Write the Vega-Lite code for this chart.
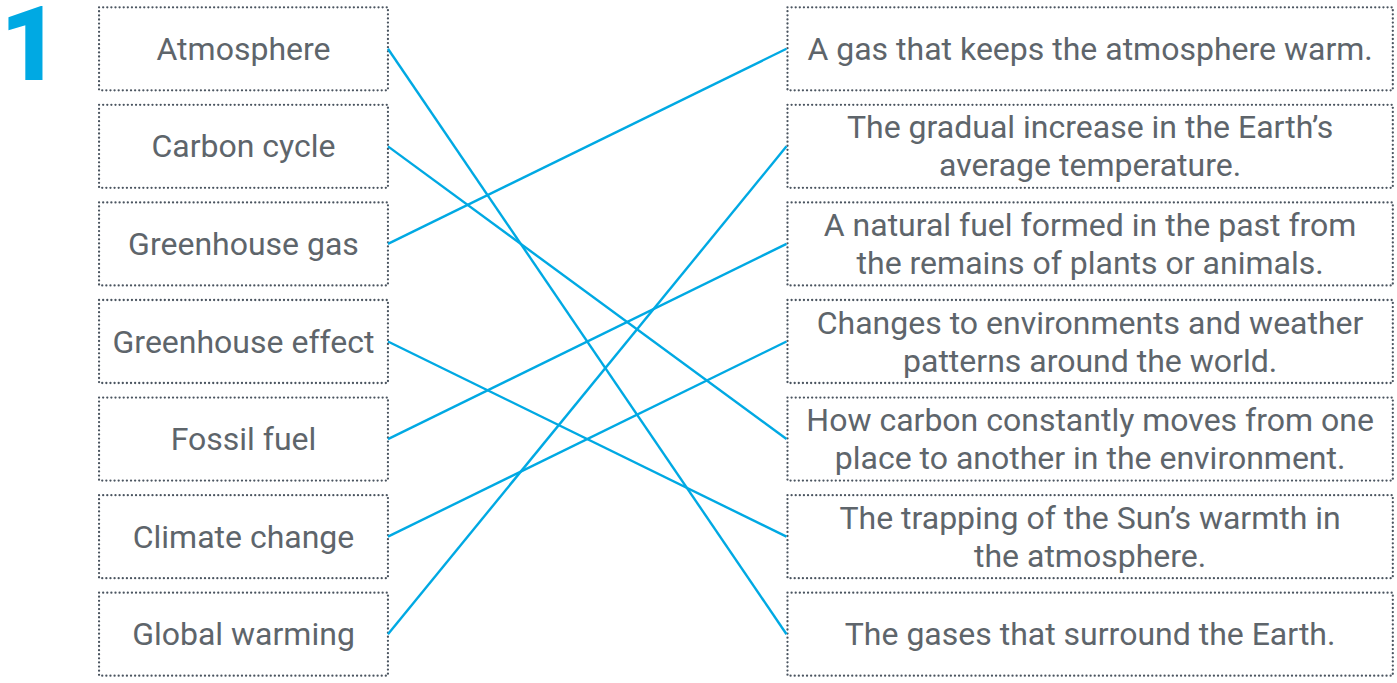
{
  "$schema": "https://vega.github.io/schema/vega-lite/v6.json",
  "width": 1397,
  "height": 683,
  "autosize": {"type": "none"},
  "padding": 0,
  "background": "white",
  "config": {"view": {"stroke": null}},
  "datasets": {
    "left": [
      {"row": 0, "label": "Atmosphere"},
      {"row": 1, "label": "Carbon cycle"},
      {"row": 2, "label": "Greenhouse gas"},
      {"row": 3, "label": "Greenhouse effect"},
      {"row": 4, "label": "Fossil fuel"},
      {"row": 5, "label": "Climate change"},
      {"row": 6, "label": "Global warming"}
    ],
    "right": [
      {"row": 0, "label": "A gas that keeps the atmosphere warm."},
      {"row": 1, "label": "The gradual increase in the Earth’s\naverage temperature."},
      {"row": 2, "label": "A natural fuel formed in the past from\nthe remains of plants or animals."},
      {"row": 3, "label": "Changes to environments and weather\npatterns around the world."},
      {"row": 4, "label": "How carbon constantly moves from one\nplace to another in the environment."},
      {"row": 5, "label": "The trapping of the Sun’s warmth in\nthe atmosphere."},
      {"row": 6, "label": "The gases that surround the Earth."}
    ],
    "links": [
      {"from": 0, "to": 6},
      {"from": 1, "to": 4},
      {"from": 2, "to": 0},
      {"from": 3, "to": 5},
      {"from": 4, "to": 2},
      {"from": 5, "to": 3},
      {"from": 6, "to": 1}
    ]
  },
  "layer": [
    {
      "data": {"name": "left"},
      "mark": {"type": "rect", "fill": "white", "stroke": "#4b5560", "strokeWidth": 2.3, "strokeDash": [0.01, 4.1], "strokeCap": "round", "yOffset": -41.5, "y2Offset": 41.5},
      "encoding": {
        "x": {"datum": 7.09, "type": "quantitative", "scale": {"domain": [0, 100]}, "axis": null},
        "x2": {"datum": 27.77},
        "y": {"field": "row", "type": "quantitative", "scale": {"domain": [-0.495, 6.474], "reverse": true}, "axis": null},
        "y2": {"field": "row"}
      }
    },
    {
      "data": {"name": "right"},
      "mark": {"type": "rect", "fill": "white", "stroke": "#4b5560", "strokeWidth": 2.3, "strokeDash": [0.01, 4.1], "strokeCap": "round", "yOffset": -41.5, "y2Offset": 41.5},
      "encoding": {
        "x": {"datum": 56.37, "type": "quantitative"},
        "x2": {"datum": 99.7},
        "y": {"field": "row", "type": "quantitative"},
        "y2": {"field": "row"}
      }
    },
    {
      "data": {"name": "links"},
      "mark": {"type": "rule", "color": "#00a9e3", "strokeWidth": 2.4},
      "encoding": {
        "x": {"datum": 27.77, "type": "quantitative"},
        "x2": {"datum": 56.3},
        "y": {"field": "from", "type": "quantitative"},
        "y2": {"field": "to"}
      }
    },
    {
      "data": {"name": "left"},
      "mark": {"type": "text", "font": "Roboto", "fontSize": 32, "color": "#5e656b", "align": "center", "baseline": "middle", "dy": 1},
      "encoding": {
        "x": {"datum": 17.43, "type": "quantitative"},
        "y": {"field": "row", "type": "quantitative"},
        "text": {"field": "label"}
      }
    },
    {
      "data": {"name": "right"},
      "transform": [{"filter": "datum.row == 0 || datum.row == 6"}],
      "mark": {"type": "text", "font": "Roboto", "fontSize": 32, "color": "#5e656b", "align": "center", "baseline": "middle", "dy": 1},
      "encoding": {
        "x": {"datum": 78.03, "type": "quantitative"},
        "y": {"field": "row", "type": "quantitative"},
        "text": {"field": "label"}
      }
    },
    {
      "data": {"name": "right"},
      "transform": [{"filter": "datum.row > 0 && datum.row < 6"}],
      "mark": {"type": "text", "font": "Roboto", "fontSize": 32, "color": "#5e656b", "align": "center", "baseline": "middle", "lineBreak": "\n", "lineHeight": 38, "dy": -18},
      "encoding": {
        "x": {"datum": 78.03, "type": "quantitative"},
        "y": {"field": "row", "type": "quantitative"},
        "text": {"field": "label"}
      }
    },
    {
      "data": {"values": [{"label": "1"}]},
      "mark": {"type": "text", "font": "Roboto", "fontSize": 104, "fontWeight": 900, "color": "#00a9e3", "align": "left", "baseline": "alphabetic"},
      "encoding": {
        "x": {"datum": 0, "type": "quantitative"},
        "y": {"datum": 0.321, "type": "quantitative"},
        "text": {"field": "label"}
      }
    }
  ]
}
